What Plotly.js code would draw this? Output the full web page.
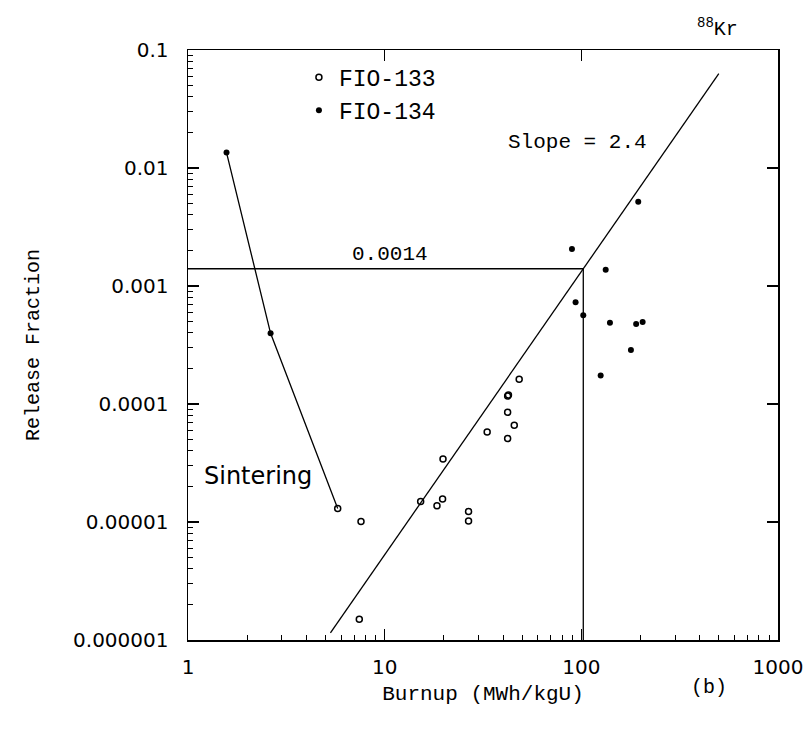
<!DOCTYPE html>
<html>
<head>
<meta charset="utf-8">
<script src="https://cdn.plot.ly/plotly-3.0.1.min.js"></script>
<style>
  html, body { margin: 0; padding: 0; background: #fff; }
  #chart { width: 810px; height: 735px; }
</style>
</head>
<body>
<div id="chart"></div>
<script>
// Fission gas (88Kr) release fraction versus burnup, log-log.

// FIO-133 (open circles)
const fio133Burnup  = [5.77, 7.58, 7.43, 15.24, 18.45, 19.7, 19.8, 26.7, 26.7, 33.2, 42.2, 42.6, 42.2, 42.2, 45.6, 48.3];
const fio133Release = [1.30e-5, 1.01e-5, 1.50e-6, 1.49e-5, 1.37e-5, 1.57e-5, 3.42e-5, 1.23e-5, 1.02e-5, 5.8e-5, 1.17e-4, 1.19e-4, 8.5e-5, 5.1e-5, 6.6e-5, 1.62e-4];

// FIO-134 (filled circles)
const fio134Burnup  = [1.57, 2.63, 194.7, 89.6, 133, 93.5, 102.3, 139.8, 190, 205, 178.7, 125.4];
const fio134Release = [0.0135, 0.000397, 0.00518, 0.00206, 0.00137, 0.00073, 0.000565, 0.000489, 0.000476, 0.000496, 0.000287, 0.000174];

// Sintering curve through the low-burnup points
const sinterBurnup  = [1.57, 2.63, 5.77];
const sinterRelease = [0.0135, 0.000397, 1.30e-5];

// Power-law fit: slope 2.4 through the 0.0014 reference point
const fitSlope = 2.4;
const fitAnchor = [102.3, 0.0014];
const fitBurnupEnds = [5.3, 500];
const fitRelease = fitBurnupEnds.map(b => fitAnchor[1] * Math.pow(b / fitAnchor[0], fitSlope));

// Reference guide lines at release fraction 0.0014
const guideLevel = 0.0014;
const axisMinBurnup = 1;
const axisMinRelease = 1e-6;

const xTickVals = [1, 10, 100, 1000];
const xTickText = ['1', '10', '100', '1000'];
const yTickVals = [1e-6, 1e-5, 1e-4, 1e-3, 1e-2, 1e-1];
const yTickText = ['0.000001', '0.00001', '0.0001', '0.001', '0.01', '0.1'];

function minorLog(lo, hi) {
  const out = [];
  for (let d = lo; d < hi; d++) {
    for (let m = 2; m <= 9; m++) out.push(m * Math.pow(10, d));
  }
  return out;
}

const monoFont = 'Liberation Mono, Courier New, monospace';
const sansFont = 'DejaVu Sans, Arial, sans-serif';

const lineStyle = { color: '#000', width: 1.3 };

const traces = [
  {
    x: [axisMinBurnup, fitAnchor[0], fitAnchor[0]],
    y: [guideLevel, guideLevel, axisMinRelease],
    mode: 'lines', line: lineStyle, showlegend: false, hoverinfo: 'skip'
  },
  {
    x: fitBurnupEnds, y: fitRelease,
    mode: 'lines', line: lineStyle, showlegend: false, hoverinfo: 'skip'
  },
  {
    x: sinterBurnup, y: sinterRelease,
    mode: 'lines', line: lineStyle, showlegend: false, hoverinfo: 'skip'
  },
  {
    x: fio133Burnup, y: fio133Release, name: 'FIO-133',
    mode: 'markers',
    marker: { symbol: 'circle-open', size: 6, color: '#000', line: { width: 1.5, color: '#000' } }
  },
  {
    x: fio134Burnup, y: fio134Release, name: 'FIO-134',
    mode: 'markers',
    marker: { symbol: 'circle', size: 6, color: '#000' }
  },
  // carrier for the top/right tick axes
  { x: [], y: [], xaxis: 'x2', yaxis: 'y2', showlegend: false, hoverinfo: 'skip' }
];

const layout = {
  width: 810, height: 735,
  margin: { l: 188, r: 32, t: 50, b: 95 },
  paper_bgcolor: '#fff', plot_bgcolor: '#fff',
  showlegend: true,
  legend: {
    x: 0.188, y: 0.99, xanchor: 'left', yanchor: 'top',
    bgcolor: 'rgba(0,0,0,0)', borderwidth: 0,
    font: { family: monoFont, size: 23, color: '#000' },
    tracegroupgap: 0, itemwidth: 30
  },
  xaxis: {
    type: 'log', range: [0, 3],
    showline: true, linecolor: '#000', linewidth: 1.5, mirror: true,
    showgrid: false, zeroline: false,
    ticks: 'inside', ticklen: 11, tickwidth: 1.2, tickcolor: '#000',
    tickmode: 'array', tickvals: xTickVals, ticktext: xTickText,
    tickfont: { family: sansFont, size: 20, color: '#000' },
    ticklabelstandoff: 8,
    minor: { tickmode: 'array', tickvals: minorLog(0, 3), ticks: 'inside', ticklen: 5, tickwidth: 1, tickcolor: '#000', showgrid: false },
    title: { text: 'Burnup (MWh/kgU)', font: { family: monoFont, size: 21, color: '#000' }, standoff: 8 }
  },
  yaxis: {
    type: 'log', range: [-6, -1],
    showline: true, linecolor: '#000', linewidth: 1.5, mirror: true,
    showgrid: false, zeroline: false,
    ticks: 'inside', ticklen: 11, tickwidth: 1.2, tickcolor: '#000',
    tickmode: 'array', tickvals: yTickVals, ticktext: yTickText,
    tickfont: { family: sansFont, size: 20, color: '#000' },
    ticklabelstandoff: 14,
    minor: { tickmode: 'array', tickvals: minorLog(-6, -1), ticks: 'inside', ticklen: 5, tickwidth: 1, tickcolor: '#000', showgrid: false },
    title: { text: 'Release Fraction', font: { family: monoFont, size: 20, color: '#000' }, standoff: 28 }
  },
  xaxis2: {
    type: 'log', range: [0, 3], overlaying: 'x', side: 'top', anchor: 'y2',
    showline: false, showgrid: false, zeroline: false,
    ticks: 'inside', ticklen: 11, tickwidth: 1.2, tickcolor: '#000',
    tickmode: 'array', tickvals: [10, 100], showticklabels: false
  },
  yaxis2: {
    type: 'log', range: [-6, -1], overlaying: 'y', side: 'right', anchor: 'x2',
    showline: false, showgrid: false, zeroline: false,
    ticks: 'inside', ticklen: 11, tickwidth: 1.2, tickcolor: '#000',
    tickmode: 'array', tickvals: [1e-5, 1e-4, 1e-3, 1e-2], showticklabels: false
  },
  annotations: [
    {
      x: Math.log10(10.6), y: Math.log10(guideLevel), xref: 'x', yref: 'y',
      text: '0.0014', showarrow: false, yanchor: 'bottom', yshift: 1,
      font: { family: monoFont, size: 21, color: '#000' }
    },
    {
      x: Math.log10(96), y: Math.log10(0.0163), xref: 'x', yref: 'y',
      text: 'Slope = 2.4', showarrow: false,
      font: { family: monoFont, size: 21, color: '#000' }
    },
    {
      x: Math.log10(2.27), y: Math.log10(2.45e-5), xref: 'x', yref: 'y',
      text: 'Sintering', showarrow: false,
      font: { family: sansFont, size: 24, color: '#000' }
    },
    {
      x: 0.917, y: -0.081, xref: 'paper', yref: 'paper',
      text: '(b)', showarrow: false, xanchor: 'right', yanchor: 'middle',
      font: { family: monoFont, size: 20, color: '#000' }
    },
    {
      x: 0.936, y: 1.012, xref: 'paper', yref: 'paper',
      text: '<sup>88</sup>Kr', showarrow: false, xanchor: 'right', yanchor: 'bottom',
      font: { family: monoFont, size: 20, color: '#000' }
    }
  ]
};

Plotly.newPlot('chart', traces, layout, { displayModeBar: false, staticPlot: true });
</script>
</body>
</html>
